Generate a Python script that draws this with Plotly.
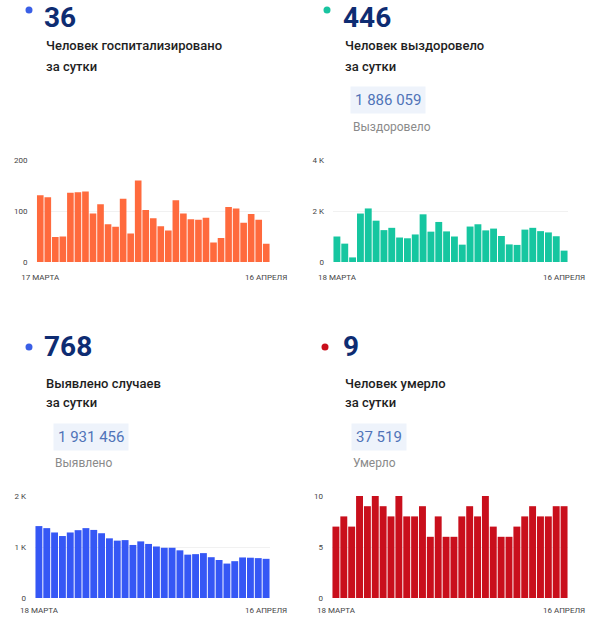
import plotly.graph_objects as go

W, H = 614, 617

# ---------------- data ----------------
days_hosp = [f"{d} марта" for d in range(17, 32)] + [f"{d} апреля" for d in range(1, 17)]
days_other = [f"{d} марта" for d in range(18, 32)] + [f"{d} апреля" for d in range(1, 17)]

hospitalized = [131, 127, 49, 50, 136, 137, 138, 95, 113, 74, 69, 124, 56, 160, 102, 86,
                70, 62, 121, 95, 84, 83, 87, 38, 47, 108, 105, 77, 94, 83, 36]
recovered = [1000, 720, 180, 1900, 2100, 1620, 1250, 1340, 960, 930, 1080, 1870, 1190, 1570,
             1200, 1000, 680, 1390, 1480, 1240, 1310, 1020, 690, 670, 1270, 1340, 1210, 1160,
             1010, 446]
cases = [1410, 1370, 1285, 1215, 1285, 1330, 1370, 1335, 1270, 1170, 1125, 1135, 1040, 1110,
         1060, 1010, 985, 985, 935, 850, 860, 880, 800, 745, 675, 722, 795, 790, 782, 768]
deaths = [7, 8, 7, 10, 9, 10, 9, 8, 10, 8, 8, 9, 6, 8, 6, 6, 8, 9, 8, 10, 7, 6, 6, 7, 8, 9,
          8, 8, 9, 9]

y_ticks_hosp = [0, 100, 200]
y_text_hosp = ["0", "100", "200"]
y_ticks_recov = [0, 2000, 4000]
y_text_recov = ["0", "2 K", "4 K"]
y_ticks_cases = [0, 1000, 2000]
y_text_cases = ["0", "1 K", "2 K"]
y_ticks_deaths = [0, 5, 10]
y_text_deaths = ["0", "5", "10"]

x_text_hosp = ["17 МАРТА", "16 АПРЕЛЯ"]
x_text_other = ["18 МАРТА", "16 АПРЕЛЯ"]

big_numbers = ["36", "446", "768", "9"]
titles = [["Человек госпитализировано", "за сутки"],
          ["Человек выздоровело", "за сутки"],
          ["Выявлено случаев", "за сутки"],
          ["Человек умерло", "за сутки"]]
totals = [None, "1 886 059", "1 931 456", "37 519"]
total_labels = [None, "Выздоровело", "Выявлено", "Умерло"]

# ---------------- styles ----------------
FONT = "Roboto, Arial, sans-serif"
bar_colors = ["#FF6A3D", "#16C6A0", "#3557F5", "#C90F1C"]
dot_colors = ["#3A5FE6", "#19C4A0", "#3A5FE6", "#C90F1C"]
NAVY = "#0E2C72"


def px_x(x):
    return x / W


def px_y(y):
    return 1 - y / H


fig = go.Figure()

panels = [
    dict(x=days_hosp, y=hospitalized, yt=y_ticks_hosp, ytt=y_text_hosp, xt=x_text_hosp,
         rng=[0, 200], x0=36.5, x1=270, top=160, bot=262, stand=9),
    dict(x=days_other, y=recovered, yt=y_ticks_recov, ytt=y_text_recov, xt=x_text_other,
         rng=[0, 4000], x0=333, x1=568, top=160, bot=262, stand=9),
    dict(x=days_other, y=cases, yt=y_ticks_cases, ytt=y_text_cases, xt=x_text_other,
         rng=[0, 2000], x0=35, x1=270, top=496, bot=598, stand=6),
    dict(x=days_other, y=deaths, yt=y_ticks_deaths, ytt=y_text_deaths, xt=x_text_other,
         rng=[0, 10], x0=332, x1=568, top=496, bot=598, stand=6),
]

layout_axes = {}
for i, p in enumerate(panels):
    n = i + 1
    xa = "x" if n == 1 else f"x{n}"
    ya = "y" if n == 1 else f"y{n}"
    fig.add_trace(go.Bar(x=p["x"], y=p["y"], marker=dict(color=bar_colors[i], line_width=0),
                         xaxis=xa, yaxis=ya, showlegend=False, hoverinfo="x+y"))
    xkey = "xaxis" if n == 1 else f"xaxis{n}"
    ykey = "yaxis" if n == 1 else f"yaxis{n}"
    layout_axes[xkey] = dict(
        domain=[px_x(p["x0"]), px_x(p["x1"])], anchor=ya, type="category",
        tickmode="array", tickvals=[p["x"][0], p["x"][-1]], ticktext=p["xt"],
        showgrid=False, zeroline=False, showline=False, ticks="", automargin=False,
        tickfont=dict(family=FONT, size=8, color="#444444"), ticklabelstandoff=p["stand"],
        fixedrange=True)
    layout_axes[ykey] = dict(
        domain=[px_y(p["bot"]), px_y(p["top"])], anchor=xa, range=p["rng"],
        tickmode="array", tickvals=p["yt"], ticktext=p["ytt"], automargin=False,
        showgrid=True, gridcolor="#F1F1F1", gridwidth=1, zeroline=False, showline=False,
        ticks="", tickfont=dict(family=FONT, size=8, color="#444444"),
        ticklabelstandoff=8, fixedrange=True)

fig.update_layout(**layout_axes)

# ---------------- headers ----------------
header_pos = [
    dict(dot=(29, 10), num=(43, 0), t1=(44, 46), t2=(44, 66), box=None, lab=None),
    dict(dot=(327, 10), num=(342, 0), t1=(343, 46), t2=(343, 66), box=(350, 100), lab=(351, 127)),
    dict(dot=(29, 347), num=(43, 346), t1=(44, 383), t2=(44, 402), box=(53, 437), lab=(53, 463)),
    dict(dot=(325, 347), num=(342, 346), t1=(343, 383), t2=(343, 402), box=(351, 437), lab=(351, 463)),
]

annotations = []
shapes = []
for i, hp in enumerate(header_pos):
    dx, dy = hp["dot"]
    r = 3.5
    shapes.append(dict(type="circle", xref="paper", yref="paper",
                       x0=px_x(dx - r), x1=px_x(dx + r), y0=px_y(dy + r), y1=px_y(dy - r),
                       fillcolor=dot_colors[i], line_width=0))
    top_row = i < 2
    annotations.append(dict(text=f"<b>{big_numbers[i]}</b>", xref="paper", yref="paper",
                            x=px_x(hp["num"][0]), y=px_y(hp["num"][1]), xanchor="left",
                            yanchor="top" if top_row else "middle", showarrow=False,
                            borderpad=0,
                            font=dict(family=FONT, size=28, color=NAVY)))
    for key, line in zip(["t1", "t2"], titles[i]):
        annotations.append(dict(text=line, xref="paper", yref="paper",
                                x=px_x(hp[key][0]), y=px_y(hp[key][1]), xanchor="left",
                                yanchor="middle", showarrow=False,
                                font=dict(family=FONT, size=13, color="#1E1E1E", weight=500)))
    if totals[i]:
        annotations.append(dict(text=totals[i], xref="paper", yref="paper",
                                x=px_x(hp["box"][0]), y=px_y(hp["box"][1]), xanchor="left",
                                yanchor="middle", showarrow=False, bgcolor="#EEF3FB",
                                borderpad=4,
                                font=dict(family=FONT, size=15, color="#5073B8")))
        annotations.append(dict(text=total_labels[i], xref="paper", yref="paper",
                                x=px_x(hp["lab"][0]), y=px_y(hp["lab"][1]), xanchor="left",
                                yanchor="middle", showarrow=False,
                                font=dict(family=FONT, size=12, color="#8A8A8A")))

fig.update_layout(
    width=W, height=H, autosize=False,
    margin=dict(l=0, r=0, t=0, b=0, pad=0, autoexpand=False),
    paper_bgcolor="white", plot_bgcolor="white",
    bargap=0.12,
    annotations=annotations, shapes=shapes,
)

fig.write_html("out.html", config={"displayModeBar": False},
               post_script="document.body.style.margin='0';document.body.style.overflow='hidden';")
